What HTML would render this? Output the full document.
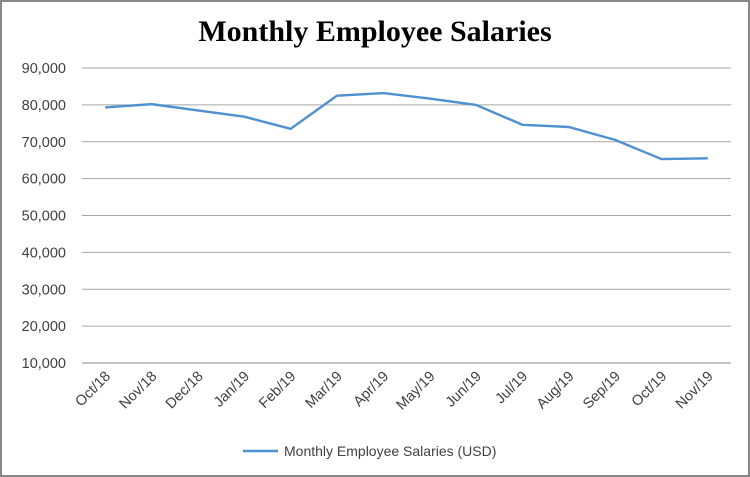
<!DOCTYPE html>
<html><head><meta charset="utf-8"><style>
html,body{margin:0;padding:0;background:#fff}
svg{display:block}
text{font-family:"Liberation Sans",sans-serif}
</style></head><body>
<svg width="750" height="477">
<rect x="1" y="1" width="748" height="475" fill="#fff" stroke="#888" stroke-width="2"/>
<text x="375" y="41" text-anchor="middle" font-weight="bold" font-size="30" fill="#000" style="font-family:'Liberation Serif',serif">Monthly Employee Salaries</text>
<g id="grid"></g><g id="xl"></g><g id="yl"></g>
<polyline id="line" fill="none" stroke="#4f90cf" stroke-width="2.4"/>
<line x1="243" y1="451" x2="278" y2="451" stroke="#4f90cf" stroke-width="2.4"/>
<text x="284" y="456" font-size="14" fill="#404040">Monthly Employee Salaries (USD)</text>
</svg>
<script>
const categories=["Oct/18","Nov/18","Dec/18","Jan/19","Feb/19","Mar/19","Apr/19","May/19","Jun/19","Jul/19","Aug/19","Sep/19","Oct/19","Nov/19"];
const salaries=[79300,80200,78500,76800,73500,82500,83200,81700,80000,74600,74000,70500,65300,65500];
const yTicks=[10000,20000,30000,40000,50000,60000,70000,80000,90000];
const yTickLabels=["10,000","20,000","30,000","40,000","50,000","60,000","70,000","80,000","90,000"];
const NS="http://www.w3.org/2000/svg";
const x0=82,x1=731,yBase=363,yTop=68;
const xs=i=>x0+(x1-x0)/categories.length*(i+0.5);
const ys=v=>yBase-(v-10000)/80000*(yBase-yTop);
function mk(t,a,p){const e=document.createElementNS(NS,t);for(const k in a)e.setAttribute(k,a[k]);p.appendChild(e);return e;}
const g=document.getElementById('grid'),yl=document.getElementById('yl'),xl=document.getElementById('xl');
yTicks.forEach((v,i)=>{
 const l=mk('line',{x1:x0,x2:x1,y1:ys(v),y2:ys(v),stroke:i===0?'#888':'#a6a6a6','stroke-width':1},g);
 
 
 const t=mk('text',{x:66,y:ys(v)+5,'text-anchor':'end','font-size':14.5,fill:'#404040'},yl);
 t.textContent=yTickLabels[i];
 
 
});
categories.forEach((c,i)=>{
 const x=xs(i)+6,y=yBase+14;
 const t=mk('text',{x:x,y:y,'text-anchor':'end','font-size':14.5,fill:'#404040',transform:`rotate(-45 ${x} ${y})`},xl);
 t.textContent=c;
 
 
});
document.getElementById('line').setAttribute('points',salaries.map((v,i)=>xs(i)+','+ys(v)).join(' '));
</script>
</body></html>
